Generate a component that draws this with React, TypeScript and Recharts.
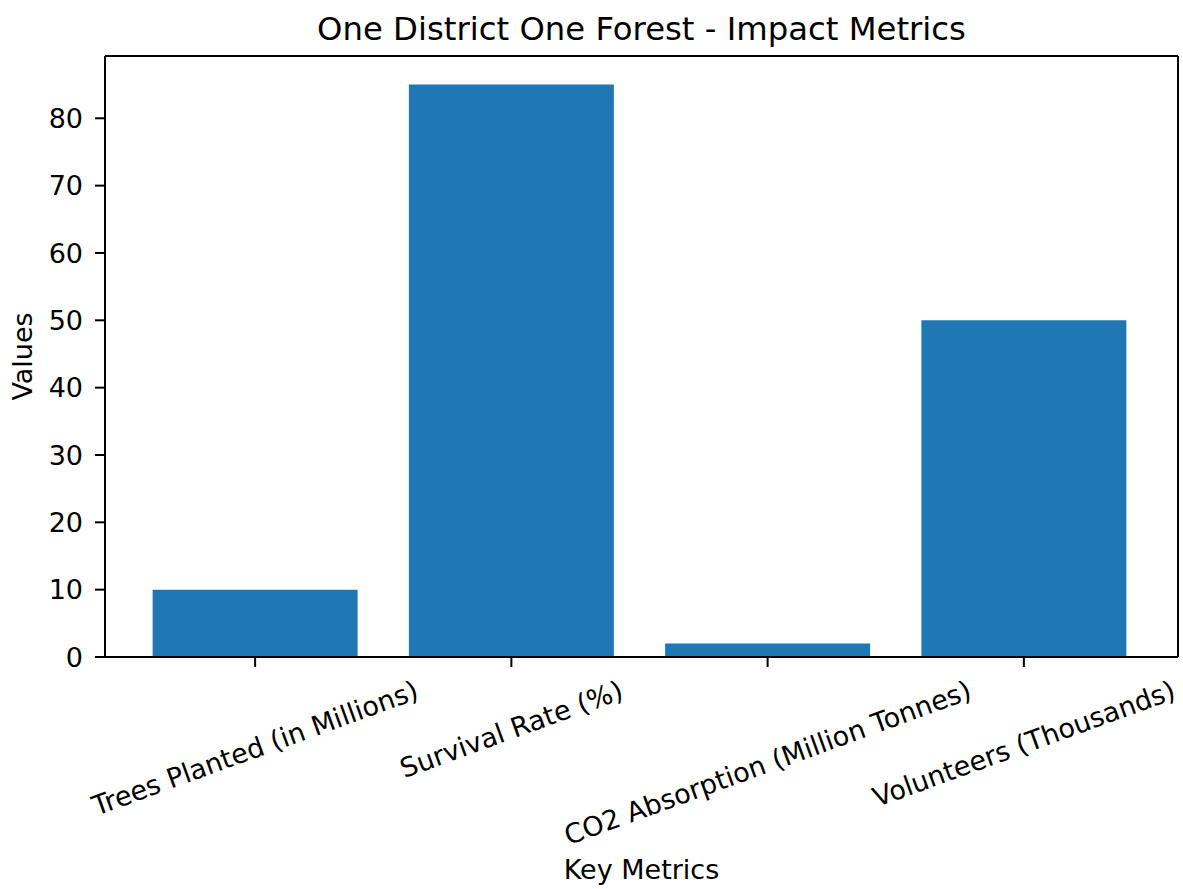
import React from "react";
import { BarChart, Bar, XAxis, YAxis, Label, CartesianGrid } from "recharts";

const categories = [
  "Trees Planted (in Millions)",
  "Survival Rate (%)",
  "CO2 Absorption (Million Tonnes)",
  "Volunteers (Thousands)",
];
const values = [10, 85, 2, 50];
const yTicks = [0, 10, 20, 30, 40, 50, 60, 70, 80];

const data = categories.map((name, i) => ({ name, value: values[i] }));

const FONT = '"DejaVu Sans", "Liberation Sans", sans-serif';
const TICK_SIZE = 27;

let canvasCtx: CanvasRenderingContext2D | null = null;
function measure(text: string): number {
  try {
    if (!canvasCtx) {
      const c = document.createElement("canvas");
      canvasCtx = c.getContext("2d");
    }
    if (canvasCtx) {
      canvasCtx.font = `${TICK_SIZE}px ${FONT}`;
      return canvasCtx.measureText(text).width;
    }
  } catch (e) {}
  return text.length * TICK_SIZE * 0.55;
}

const ANGLE = 20;
const XTick = (props: any) => {
  const { x, y, payload } = props;
  const text = String(payload.value);
  const w = measure(text);
  const h = 30;
  const rad = (ANGLE * Math.PI) / 180;
  const bboxH = w * Math.sin(rad) + h * Math.cos(rad);
  const cy = y + bboxH / 2;
  return (
    <text
      x={x}
      y={cy}
      textAnchor="middle"
      dominantBaseline="central"
      transform={`rotate(${-ANGLE}, ${x}, ${cy})`}
      fontFamily={FONT}
      fontSize={TICK_SIZE}
      fill="#000"
    >
      {text}
    </text>
  );
};

export default function App() {
  return (
    <div style={{ position: "absolute", left: 0, top: 0, width: 1183, height: 889, background: "#fff" }}>
      <BarChart
        width={1183}
        height={889}
        data={data}
        margin={{ top: 56, right: 5, bottom: 32, left: 5 }}
        barCategoryGap="10%"
      >
        <CartesianGrid
          stroke="#000"
          strokeWidth={2}
          horizontalCoordinatesGenerator={(p: any) => [p && p.offset ? p.offset.top : 56]}
          verticalCoordinatesGenerator={(p: any) => [
            p && p.offset ? p.offset.left + p.offset.width : 1178,
          ]}
        />
        <XAxis
          dataKey="name"
          interval={0}
          padding={{ left: 22, right: 26 }}
          height={200}
          tickSize={10}
          tickMargin={8}
          tick={<XTick />}
          axisLine={{ stroke: "#000", strokeWidth: 2 }}
          tickLine={{ stroke: "#000", strokeWidth: 2 }}
        >
          <Label
            content={(p: any) => {
              const vb = p.viewBox || { x: 105, y: 657, width: 1073, height: 200 };
              return (
                <text
                  x={vb.x + vb.width / 2}
                  y={879}
                  textAnchor="middle"
                  fontFamily={FONT}
                  fontSize={27}
                  fill="#000"
                >
                  Key Metrics
                </text>
              );
            }}
          />
          <Label
            content={(p: any) => {
              const vb = p.viewBox || { x: 105, y: 657, width: 1073, height: 200 };
              return (
                <text
                  x={vb.x + vb.width / 2}
                  y={40}
                  textAnchor="middle"
                  fontFamily={FONT}
                  fontSize={32.3}
                  fill="#000"
                >
                  One District One Forest - Impact Metrics
                </text>
              );
            }}
          />
        </XAxis>
        <YAxis
          type="number"
          domain={[0, 89.25]}
          ticks={yTicks}
          width={100}
          tickSize={10}
          tickMargin={12}
          tick={{ fontFamily: FONT, fontSize: TICK_SIZE, fill: "#000" }}
          axisLine={{ stroke: "#000", strokeWidth: 2 }}
          tickLine={{ stroke: "#000", strokeWidth: 2 }}
        >
          <Label
            content={(p: any) => {
              const vb = p.viewBox || { x: 5, y: 56, width: 100, height: 601 };
              const cy = vb.y + vb.height / 2;
              return (
                <text
                  x={32}
                  y={cy}
                  textAnchor="middle"
                  transform={`rotate(-90, 32, ${cy})`}
                  fontFamily={FONT}
                  fontSize={27}
                  fill="#000"
                >
                  Values
                </text>
              );
            }}
          />
        </YAxis>
        <Bar dataKey="value" fill="#1f77b4" isAnimationActive={false} />
      </BarChart>
    </div>
  );
}
